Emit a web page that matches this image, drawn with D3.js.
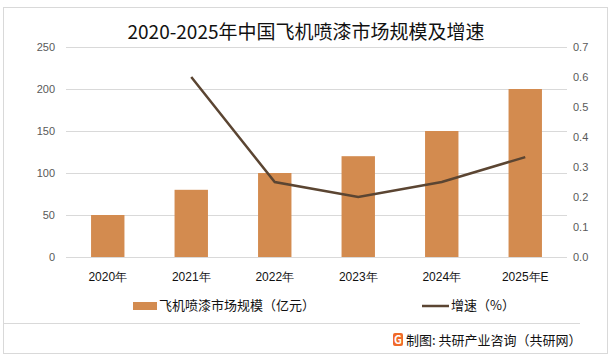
<!DOCTYPE html>
<html><head><meta charset="utf-8">
<script src="https://cdn.jsdelivr.net/npm/d3@7"></script>
<style>body{margin:0;background:#fff;}svg{display:block;font-family:"Noto Sans CJK SC","Microsoft YaHei",sans-serif;}</style>
</head><body>
<svg id="c" width="613" height="358"></svg>
<script>
const categories = ["2020年","2021年","2022年","2023年","2024年","2025年E"];
const marketSize = [50, 80, 100, 120, 150, 200];
const growthRate = [null, 0.6, 0.25, 0.2, 0.25, 0.333];
const leftTicks = [0,50,100,150,200,250];
const rightTicks = [0,0.1,0.2,0.3,0.4,0.5,0.6,0.7];

const svg = d3.select("#c");
const W = 613, H = 358;
svg.append("rect").attr("x",3.5).attr("y",7.5).attr("width",604).attr("height",346)
  .attr("fill","#fff").attr("stroke","#d9d9d9");

const plot = {l:66, r:567, t:47, b:257};
const x = d3.scaleBand().domain(categories).range([plot.l, plot.r]).paddingInner(0.6).paddingOuter(0.3);
const yL = d3.scaleLinear().domain([0,250]).range([plot.b, plot.t]);
const yR = d3.scaleLinear().domain([0,0.7]).range([plot.b, plot.t]);

// title
svg.append("text").attr("x",306).attr("y",39).attr("text-anchor","middle")
  .attr("font-size",19).attr("fill","#111").text("2020-2025年中国飞机喷漆市场规模及增速");

// gridlines
svg.append("g").selectAll("line").data(leftTicks).join("line")
  .attr("x1",plot.l).attr("x2",plot.r).attr("y1",d=>Math.round(yL(d))+0.5).attr("y2",d=>Math.round(yL(d))+0.5)
  .attr("stroke","#d9d9d9").attr("stroke-width",1);

// left axis
const gl = svg.append("g").attr("transform",`translate(${plot.l},0)`)
  .call(d3.axisLeft(yL).tickValues(leftTicks).tickSize(0).tickPadding(11));
gl.select(".domain").remove();
gl.selectAll("text").attr("font-size",11).attr("fill","#595959").attr("font-family","Liberation Sans, Arial, sans-serif");

// right axis
const gr = svg.append("g").attr("transform",`translate(${plot.r},0)`)
  .call(d3.axisRight(yR).tickValues(rightTicks).tickFormat(d3.format(".1f")).tickSize(0).tickPadding(6));
gr.select(".domain").remove();
gr.selectAll("text").attr("font-size",11).attr("fill","#595959").attr("font-family","Liberation Sans, Arial, sans-serif");

// bars
svg.append("g").selectAll("rect").data(marketSize).join("rect")
  .attr("x",(d,i)=>x(categories[i])).attr("width",x.bandwidth())
  .attr("y",d=>yL(d)).attr("height",d=>plot.b-yL(d)).attr("fill","#D38B4F");

// x axis
const gx = svg.append("g").attr("transform",`translate(0,${plot.b})`)
  .call(d3.axisBottom(x).tickSize(0).tickPadding(15));
gx.select(".domain").remove();
gx.selectAll("text").attr("font-size",12).attr("fill","#111");

// line
const pts = growthRate.map((v,i)=>({v, c:categories[i]})).filter(p=>p.v!=null);
svg.append("path").datum(pts)
  .attr("d", d3.line().x(p=>x(p.c)+x.bandwidth()/2).y(p=>yR(p.v)))
  .attr("fill","none").attr("stroke","#5B4532").attr("stroke-width",2.5);

// legend
svg.append("rect").attr("x",133).attr("y",302).attr("width",24).attr("height",8).attr("fill","#D38B4F");
svg.append("text").attr("x",159).attr("y",310).attr("font-size",13).attr("fill","#111").text("飞机喷漆市场规模（亿元）");
svg.append("line").attr("x1",422).attr("x2",449).attr("y1",306).attr("y2",306).attr("stroke","#5B4532").attr("stroke-width",2.5);
svg.append("text").attr("x",451).attr("y",310).attr("font-size",13).attr("fill","#111").text("增速（%）");

// separator
svg.append("line").attr("x1",3).attr("x2",580).attr("y1",323.5).attr("y2",323.5).attr("stroke","#d9d9d9");

// footer logo
const lg = svg.append("g").attr("transform","translate(393,333)");
lg.append("rect").attr("width",10).attr("height",13).attr("rx",2).attr("fill","#F06A28");
lg.append("text").attr("x",5).attr("y",11).attr("text-anchor","middle").attr("font-size",11).attr("font-weight","bold").attr("fill","#fff").text("G");
svg.append("text").attr("x",406).attr("y",345).attr("font-size",13).attr("fill","#111").text("制图: 共研产业咨询（共研网）");
</script>
</body></html>
